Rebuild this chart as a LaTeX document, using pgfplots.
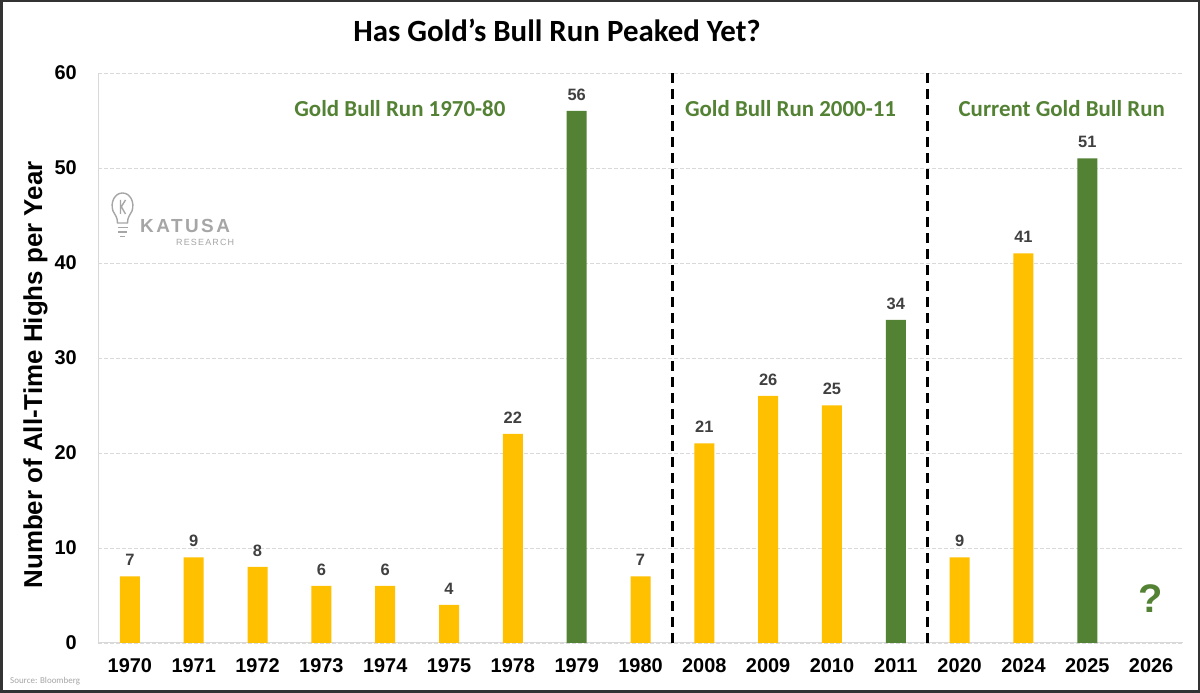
\documentclass[border=0pt]{standalone}
\usepackage{pgfplots}
\pgfplotsset{compat=1.18}
\usepackage{fontspec}
\setmainfont{Liberation Sans}
\newfontfamily\aptos{Carlito}
\newfontfamily\logofont[LetterSpace=13]{Liberation Sans}
\definecolor{gold}{HTML}{FFC000}
\definecolor{bullgreen}{HTML}{548235}
\definecolor{labelgray}{HTML}{404040}
\definecolor{gridgray}{HTML}{D9D9D9}
\definecolor{logogray}{HTML}{A6A6A6}
\begin{document}
\begin{tikzpicture}[x=1bp,y=1bp]
\useasboundingbox (0,0) rectangle (1200,693);
\fill[white] (0,0) rectangle (1200,693);
\draw[line width=2.5bp, color=black!80] (1.25,1.25) rectangle (1198.75,691.75);
% title
\node[anchor=base, font=\aptos\bfseries\fontsize{31}{31}\selectfont] at (557,651) {Has Gold’s Bull Run Peaked Yet?};
% y label
\node[anchor=base, rotate=90, font=\bfseries\fontsize{26}{26}\selectfont] at (42,318) {Number of All-Time Highs per Year};
% source
\node[anchor=base west, font=\aptos\fontsize{9}{9}\selectfont, color=logogray, inner sep=0pt] at (10,9) {Source: Bloomberg};
% logo
\begin{scope}[color=logogray, line width=1.4bp]
\draw (113,482) .. controls (110,491) and (115,500) .. (122.5,500) .. controls (130,500) and (135,491) .. (132,482) .. controls (130,478) and (127.5,476) .. (127.5,470) -- (117.5,470) .. controls (117.5,476) and (115,478) .. (113,482) -- cycle;
\draw (117.5,465.5) -- (127.5,465.5);
\draw (118,461) -- (127,461);
\draw (120,456.5) -- (125,456.5);
\draw (120.5,479) -- (120.5,493) (120.5,485) -- (125.5,493) (121.5,486) -- (125.5,479);
\end{scope}
\node[anchor=base west, inner sep=0pt, font=\logofont\bfseries\fontsize{19}{19}\selectfont, color=logogray] at (140,460) {KATUSA};
\node[anchor=base west, inner sep=0pt, font=\logofont\fontsize{9}{9}\selectfont, color=logogray] at (176,447) {RESEARCH};
\begin{axis}[
  at={(98bp,50bp)}, anchor=south west,
  scale only axis, width=1085bp, height=570bp,
  xmin=-0.5, xmax=16.5, ymin=0, ymax=60,
  axis lines*=left,
  axis line style={draw=gridgray, line width=1bp},
  ytick={0,10,...,60},
  xtick={0,...,16},
  xticklabels={1970,1971,1972,1973,1974,1975,1978,1979,1980,2008,2009,2010,2011,2020,2024,2025,2026},
  major tick length=0pt,
  ymajorgrids,
  grid style={draw=gridgray, line width=0.8bp, dash pattern=on 4bp off 2bp},
  /pgf/number format/assume math mode=true,
  tick label style={font=\bfseries\fontsize{20}{20}\selectfont},
  xticklabel style={inner sep=0pt, yshift=-15bp},
  yticklabel style={inner sep=0pt, xshift=-21bp},
  ybar, bar width=20bp, bar shift=0pt,
  nodes near coords,
  every node near coord/.append style={font=\bfseries\fontsize{16.5}{16.5}\selectfont, color=labelgray, yshift=7bp},
  clip=false,
]
\addplot[fill=gold, draw=none] coordinates {(0,7) (1,9) (2,8) (3,6) (4,6) (5,4) (6,22) (8,7) (9,21) (10,26) (11,25) (13,9) (14,41)};
\addplot[fill=bullgreen, draw=none] coordinates {(7,56) (12,34) (15,51)};
\draw[black, line width=2.5bp, dash pattern=on 10bp off 6bp] (axis cs:8.5,0) -- (axis cs:8.5,60);
\draw[black, line width=2.5bp, dash pattern=on 10bp off 6bp] (axis cs:12.5,0) -- (axis cs:12.5,60);
\node[font=\aptos\bfseries\fontsize{23}{23}\selectfont, color=bullgreen] at (axis cs:4.23,56.3) {Gold Bull Run 1970-80};
\node[font=\aptos\bfseries\fontsize{23}{23}\selectfont, color=bullgreen] at (axis cs:10.35,56.3) {Gold Bull Run 2000-11};
\node[font=\aptos\bfseries\fontsize{23}{23}\selectfont, color=bullgreen] at (axis cs:14.6,56.3) {Current Gold Bull Run};
\node[font=\bfseries\fontsize{40}{40}\selectfont, color=bullgreen] at (axis cs:16,4.7) {?};
\end{axis}
\end{tikzpicture}
\end{document}
